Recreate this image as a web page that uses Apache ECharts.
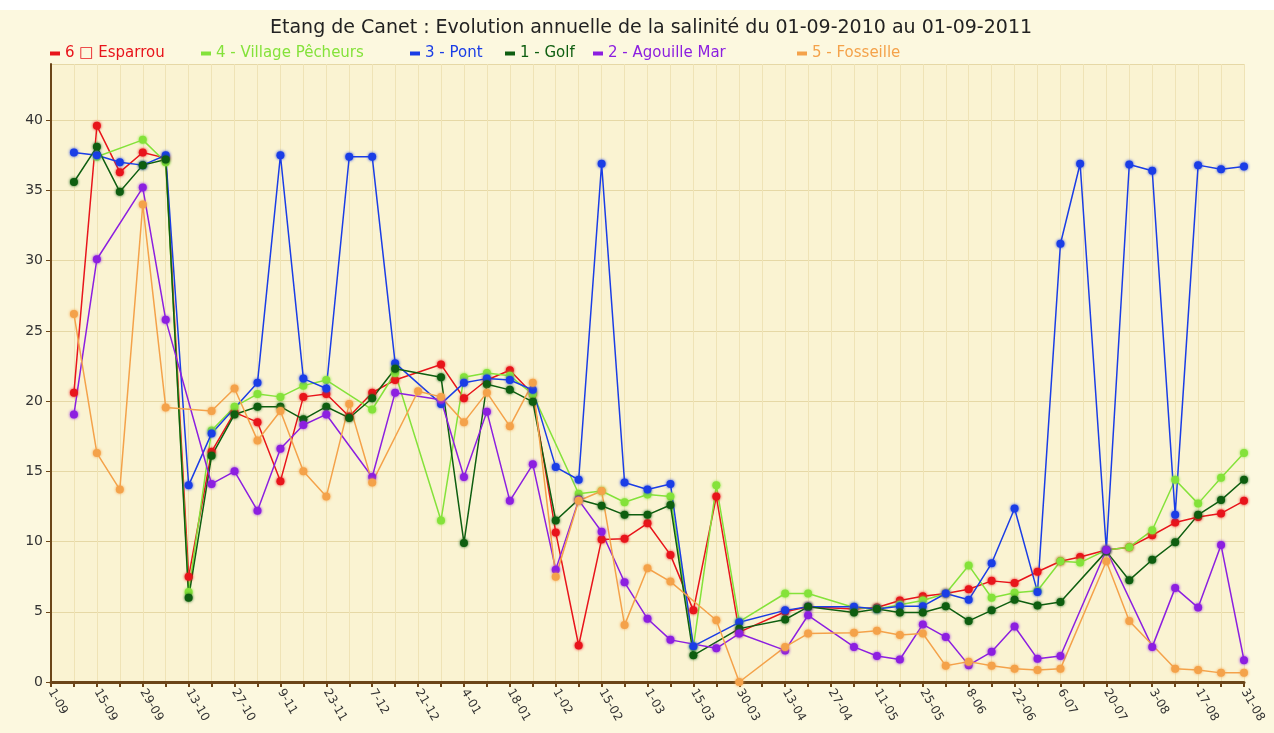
<!DOCTYPE html>
<html>
<head>
<meta charset="utf-8">
<script src="https://cdn.jsdelivr.net/npm/echarts@6/dist/echarts.min.js"></script>
<style>
html,body{margin:0;padding:0;background:#ffffff;}
#main{position:absolute;left:0;top:10px;width:1274px;height:723px;background:#fcf8df;}
</style>
</head>
<body>
<div id="main"></div>
<script>
// x: days since 01-09-2010 ; ticks every 7 days, labels every 14 days
const tickLabels = ['1-09','15-09','29-09','13-10','27-10','9-11','23-11','7-12','21-12','4-01','18-01','1-02','15-02','1-03','15-03','30-03','13-04','27-04','11-05','25-05','8-06','22-06','6-07','20-07','3-08','17-08','31-08'];

const days = [7,14,21,28,35,42,49,56,63,70,77,84,91,98,105,112,119,126,133,140,147,154,161,168,175,182,189,196,203,210,
  224,231,
  245,252,259,266,273,280,287,294,301,308,
  314,
  322,329,336,343,350,357,364];

const seriesNames = ['6 \u25A1 Esparrou','4 - Village P\u00EAcheurs','3 - Pont','1 - Golf','2 - Agouille Mar','5 - Fosseille'];

const esparrou = [20.6,39.6,36.3,37.7,37.3,7.5,16.4,19.2,18.5,14.3,
  20.3,20.5,18.9,20.6,21.5,null,22.6,20.2,21.5,22.2,
  20.5,10.65,2.6,10.15,10.2,11.3,9.05,5.1,13.2,3.55,
  5.0,5.35,
  5.2,5.3,5.8,6.1,6.3,6.6,7.2,7.05,7.85,8.6,
  8.9,
  9.4,9.6,10.45,11.35,11.75,12.0,12.9];

const village = [null,37.4,null,38.6,37.0,6.4,17.9,19.6,20.5,20.3,
  21.1,21.5,null,19.4,22.0,null,11.5,21.7,22.0,21.8,
  20.5,null,13.4,13.6,12.8,13.35,13.2,2.5,14.0,4.3,
  6.3,6.3,
  5.3,5.2,5.5,5.8,6.3,8.3,6.0,6.35,6.5,8.6,
  8.5,
  9.4,9.6,10.8,14.4,12.7,14.55,16.3];

const pont = [37.7,37.5,37.0,36.8,37.5,14.0,17.7,null,21.3,37.5,
  21.6,20.9,37.4,37.4,22.7,null,19.8,21.3,21.6,21.5,
  20.8,15.3,14.4,36.9,14.2,13.7,14.1,2.55,null,4.25,
  5.1,5.35,
  5.35,5.2,5.4,5.4,6.3,5.85,8.45,12.35,6.4,31.2,
  36.9,
  9.4,36.85,36.4,11.9,36.8,36.5,36.7];

const golf = [35.6,38.1,34.9,36.8,37.2,6.0,16.1,19.05,19.6,19.6,
  18.7,19.6,18.8,20.2,22.3,null,21.7,9.9,21.2,20.8,
  19.95,11.5,13.0,12.55,11.9,11.9,12.6,1.9,null,3.8,
  4.45,5.35,
  4.95,5.2,4.95,4.95,5.4,4.35,5.1,5.85,5.45,5.7,
  null,
  9.3,7.25,8.7,9.95,11.9,12.95,14.4];

const agouille = [19.05,30.1,null,35.2,25.8,null,14.1,15.0,12.2,16.6,
  18.3,19.05,null,14.6,20.6,null,20.1,14.6,19.25,12.9,
  15.5,8.0,12.95,10.7,7.1,4.5,3.0,null,2.4,3.45,
  2.25,4.75,
  2.5,1.85,1.6,4.1,3.2,1.2,2.15,3.95,1.65,1.85,
  null,
  9.4,null,2.5,6.7,5.3,9.75,1.55];

const fosseille = [26.2,16.3,13.7,34.0,19.55,null,19.3,20.9,17.2,19.3,
  15.0,13.2,19.8,14.2,null,20.7,20.3,18.5,20.6,18.2,
  21.3,7.5,12.9,13.6,4.05,8.1,7.15,null,4.4,0.0,
  2.5,3.45,
  3.5,3.65,3.35,3.45,1.15,1.45,1.15,0.95,0.85,0.95,
  null,
  8.6,4.35,null,0.95,0.85,0.65,0.65];

const seriesValues = [esparrou, village, pont, golf, agouille, fosseille];
const colors = ['#e8141b','#84e23a','#1a3de6','#0e5e10','#8c1fe0','#f4a24a'];
const legendLeft = [50, 201, 410, 505, 593, 797];

function pairs(vals){
  const out = [];
  vals.forEach((v,i)=>{ if(v!==null) out.push([days[i], v]); });
  return out;
}

const chart = echarts.init(document.getElementById('main'), null, {renderer:'canvas'});
const FONT = 'DejaVu Sans';

chart.setOption({
  backgroundColor: '#fcf8df',
  animation: false,
  title: {
    text: 'Etang de Canet : Evolution annuelle de la salinit\u00E9 du 01-09-2010 au 01-09-2011',
    left: 265, top: 4,
    textStyle: {fontFamily: FONT, fontSize: 19, fontWeight: 'normal', color: '#222'}
  },
  legend: seriesNames.map((n,i)=>({
    left: legendLeft[i], top: 36, padding: 0,
    icon: 'rect', itemWidth: 10, itemHeight: 4, itemGap: 0,
    textStyle: {fontFamily: FONT, fontSize: 15, color: colors[i]},
    data: [n]
  })),
  grid: {left: 51, right: 30, top: 54, bottom: 51, show: true, backgroundColor: '#faf3d2', borderWidth: 0},
  xAxis: {
    type: 'value', min: 0, max: 364, interval: 7,
    axisLine: {show: true, lineStyle: {color: '#6b4518', width: 3}},
    axisTick: {show: true, length: 5, lineStyle: {color: '#6b4518', width: 2}},
    splitLine: {show: true, lineStyle: {color: '#efe3b6', width: 1}},
    axisLabel: {
      rotate: -60, margin: 8, fontFamily: FONT, fontSize: 12, color: '#333',
      showMinLabel: true, showMaxLabel: true,
      formatter: function(v){ return (v % 14 === 0) ? tickLabels[v/14] : ''; }
    }
  },
  yAxis: {
    type: 'value', min: 0, max: 44, interval: 5,
    axisLine: {show: true, lineStyle: {color: '#6b4518', width: 2}},
    axisTick: {show: true, length: 5, lineStyle: {color: '#6b4518', width: 1}},
    splitLine: {show: true, lineStyle: {color: '#e6d8a6', width: 1}},
    axisLabel: {fontFamily: FONT, fontSize: 14, color: '#333', margin: 8, showMaxLabel: false}
  },
  series: seriesNames.map((n,i)=>({
    name: n, type: 'line',
    data: pairs(seriesValues[i]),
    color: colors[i],
    symbol: 'circle', symbolSize: 8,
    lineStyle: {width: 1.5, color: colors[i]},
    itemStyle: {color: colors[i], shadowBlur: 3, shadowColor: colors[i]}
  }))
});
</script>
</body>
</html>
